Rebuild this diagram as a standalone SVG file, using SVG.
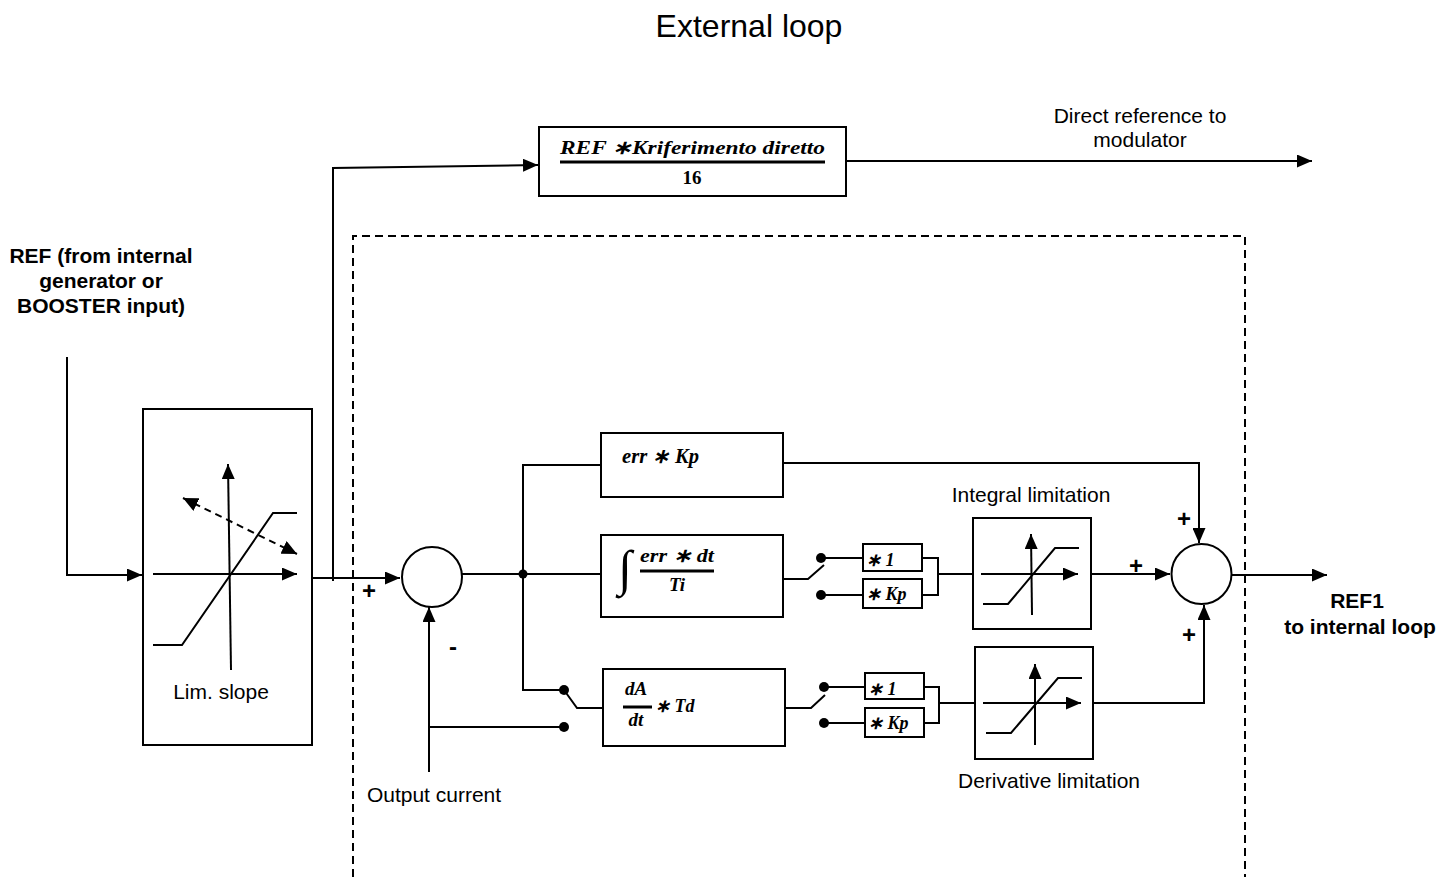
<svg xmlns="http://www.w3.org/2000/svg" width="1455" height="877" viewBox="0 0 1455 877">
<defs>
<marker id="ah" markerUnits="userSpaceOnUse" markerWidth="15" markerHeight="13" refX="15" refY="6.5" orient="auto"><path d="M0,0 L15,6.5 L0,13 z" fill="#000"/></marker>
<marker id="ahs" markerUnits="userSpaceOnUse" markerWidth="15" markerHeight="14" refX="15" refY="7" orient="auto-start-reverse"><path d="M0,0 L15,7 L0,14 z" fill="#000"/></marker>
<style>
.ln{fill:none;stroke:#000;stroke-width:2}
.bx{fill:#fff;stroke:#000;stroke-width:2}
.lbl{font-family:"Liberation Sans",Arial,sans-serif;font-size:21px;fill:#000}
.bld{font-family:"Liberation Sans",Arial,sans-serif;font-size:21px;font-weight:bold;fill:#000}
.pm{font-family:"Liberation Sans",Arial,sans-serif;font-size:24px;font-weight:bold;fill:#000;text-anchor:middle}
.mth{font-family:"Liberation Serif","Times New Roman",serif;font-style:italic;font-weight:bold;fill:#000}
.dot{fill:#000}
</style>
</defs>
<rect width="1455" height="877" fill="#fff"/>
<text x="749" y="37" class="lbl" style="font-size:32px" text-anchor="middle">External loop</text>

<path id="dashed-box" d="M353,877 V236 H1245 V877" fill="none" stroke="#000" stroke-width="2" stroke-dasharray="8,5"/>

<g id="connectors">
<polyline class="ln" points="67,357 67,575 142,575" marker-end="url(#ah)"/>
<polyline class="ln" points="312,578 400,578" marker-end="url(#ah)"/>
<polyline class="ln" points="333,581 333,168 538,165" marker-end="url(#ah)"/>
<polyline class="ln" points="846,161 1312,161" marker-end="url(#ah)"/>
<polyline class="ln" points="462,574 600,574"/>
<polyline class="ln" points="600,465 523,465 523,690 564,690"/>
<polyline class="ln" points="783,463 1199,463 1199,543" marker-end="url(#ah)"/>
<polyline class="ln" points="783,579 808,579 824,565"/>
<polyline class="ln" points="821,558 863,558"/>
<polyline class="ln" points="821,595 863,595"/>
<polyline class="ln" points="922,558 938,558 938,595 922,595"/>
<polyline class="ln" points="938,574 973,574"/>
<polyline class="ln" points="1091,574 1170,574" marker-end="url(#ah)"/>
<polyline class="ln" points="1232,575 1327,575" marker-end="url(#ah)"/>
<polyline class="ln" points="564,690 577,708 603,708"/>
<polyline class="ln" points="429,772 429,607" marker-end="url(#ah)"/>
<polyline class="ln" points="429,727 564,727"/>
<polyline class="ln" points="785,708 811,708 825,695"/>
<polyline class="ln" points="824,687 865,687"/>
<polyline class="ln" points="824,723 865,723"/>
<polyline class="ln" points="924,687 939,687 939,723 924,723"/>
<polyline class="ln" points="939,703 975,703"/>
<polyline class="ln" points="1093,703 1204,703 1204,605" marker-end="url(#ah)"/>
<circle class="dot" cx="523" cy="574" r="4.5"/>
<circle class="dot" cx="564" cy="690" r="5"/>
<circle class="dot" cx="564" cy="727" r="5"/>
<circle class="dot" cx="821" cy="558" r="5"/>
<circle class="dot" cx="821" cy="595" r="5"/>
<circle class="dot" cx="824" cy="687" r="5"/>
<circle class="dot" cx="824" cy="723" r="5"/>
</g>

<g id="ref-label">
<text class="bld" text-anchor="middle"><tspan x="101" y="263">REF (from internal</tspan><tspan x="101" y="288">generator or</tspan><tspan x="101" y="313">BOOSTER input)</tspan></text>
</g>

<g id="lim-slope">
<rect class="bx" x="143" y="409" width="169" height="336"/>
<polyline class="ln" points="231,670 228,464" marker-end="url(#ah)"/>
<polyline class="ln" points="153,574 297,574" marker-end="url(#ah)"/>
<polyline class="ln" points="153,645 182,645 273,513 297,513"/>
<line x1="183" y1="498" x2="297" y2="554" stroke="#000" stroke-width="2" stroke-dasharray="7,5" marker-start="url(#ahs)" marker-end="url(#ahs)"/>
<text x="221" y="699" class="lbl" text-anchor="middle">Lim. slope</text>
</g>

<g id="direct-ref-box">
<rect class="bx" x="539" y="127" width="307" height="69"/>
<text x="560" y="154" class="mth" style="font-size:19px" textLength="265" lengthAdjust="spacingAndGlyphs">REF ∗Kriferimento diretto</text>
<line x1="560" y1="162" x2="825" y2="162" stroke="#000" stroke-width="3"/>
<text x="692" y="184" class="mth" style="font-size:19px;font-style:normal" text-anchor="middle">16</text>
</g>
<g id="direct-ref-label">
<text class="lbl" text-anchor="middle"><tspan x="1140" y="123">Direct reference to</tspan><tspan x="1140" y="147">modulator</tspan></text>
</g>

<g id="sum1">
<circle class="bx" cx="432" cy="577" r="30"/>
<text x="369" y="599" class="pm">+</text>
<text x="453" y="655" class="pm">-</text>
</g>
<g id="output-current-label">
<text x="434" y="802" class="lbl" text-anchor="middle">Output current</text>
</g>

<g id="prop-box">
<rect class="bx" x="601" y="433" width="182" height="64"/>
<text x="622" y="463" class="mth" style="font-size:20px" textLength="77" lengthAdjust="spacingAndGlyphs">err ∗ Kp</text>
</g>

<g id="int-box">
<rect class="bx" x="601" y="535" width="182" height="82"/>
<text x="618" y="585" class="mth" style="font-size:50px;font-weight:normal">∫</text>
<text x="640" y="562" class="mth" style="font-size:19px" textLength="74" lengthAdjust="spacingAndGlyphs">err ∗ dt</text>
<line x1="640" y1="571" x2="714" y2="571" stroke="#000" stroke-width="3"/>
<text x="677" y="591" class="mth" style="font-size:19px" text-anchor="middle">Ti</text>
</g>
<g id="int-gain1"><rect class="bx" x="863" y="544" width="59" height="27"/><text x="866" y="566" class="mth" style="font-size:18px">∗ 1</text></g>
<g id="int-gainkp"><rect class="bx" x="863" y="579" width="59" height="29"/><text x="866" y="600" class="mth" style="font-size:18px">∗ Kp</text></g>

<g id="int-limit">
<rect class="bx" x="973" y="518" width="118" height="111"/>
<polyline class="ln" points="981,574 1078,574" marker-end="url(#ah)"/>
<polyline class="ln" points="1032,615 1031,534" marker-end="url(#ah)"/>
<polyline class="ln" points="983,604 1008,604 1055,548 1079,548"/>
<text x="1031" y="502" class="lbl" text-anchor="middle">Integral limitation</text>
</g>

<g id="deriv-box">
<rect class="bx" x="603" y="669" width="182" height="77"/>
<text x="636" y="695" class="mth" style="font-size:19px" text-anchor="middle">dA</text>
<line x1="623" y1="707" x2="652" y2="707" stroke="#000" stroke-width="3"/>
<text x="636" y="726" class="mth" style="font-size:19px" text-anchor="middle">dt</text>
<text x="655" y="712" class="mth" style="font-size:18px">∗ Td</text>
</g>
<g id="der-gain1"><rect class="bx" x="865" y="673" width="59" height="26"/><text x="868" y="695" class="mth" style="font-size:18px">∗ 1</text></g>
<g id="der-gainkp"><rect class="bx" x="865" y="708" width="59" height="29"/><text x="868" y="729" class="mth" style="font-size:18px">∗ Kp</text></g>

<g id="deriv-limit">
<rect class="bx" x="975" y="647" width="118" height="112"/>
<polyline class="ln" points="983,703 1081,703" marker-end="url(#ah)"/>
<polyline class="ln" points="1035,745 1035,664" marker-end="url(#ah)"/>
<polyline class="ln" points="986,733 1011,733 1058,678 1082,678"/>
<text x="1049" y="788" class="lbl" text-anchor="middle">Derivative limitation</text>
</g>

<g id="sum2">
<circle class="bx" cx="1201.5" cy="574" r="30"/>
<text x="1136" y="574" class="pm">+</text>
<text x="1184" y="527" class="pm">+</text>
<text x="1189" y="643" class="pm">+</text>
</g>

<g id="ref1-label">
<text class="bld" text-anchor="middle"><tspan x="1357" y="608">REF1</tspan><tspan x="1360" y="634">to internal loop</tspan></text>
</g>
</svg>
